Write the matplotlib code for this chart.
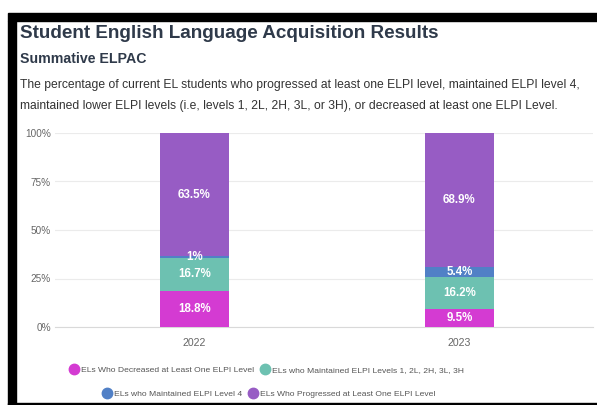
import numpy as np
import matplotlib.pyplot as plt
from matplotlib.lines import Line2D
from matplotlib.patches import Rectangle

years = ['2022', '2023']
decreased = [18.8, 9.5]
maintained_low = [16.7, 16.2]
maintained_4 = [1.0, 5.4]
progressed = [63.5, 68.9]

series = [decreased, maintained_low, maintained_4, progressed]
names = ['ELs Who Decreased at Least One ELPI Level',
         'ELs who Maintained ELPI Levels 1, 2L, 2H, 3L, 3H',
         'ELs who Maintained ELPI Level 4',
         'ELs Who Progressed at Least One ELPI Level']
colors = ['#D43BD2', '#6DC1B1', '#5180C6', '#975CC4']

plt.rcParams['font.family'] = ['Liberation Sans', 'DejaVu Sans']

W, H = 597, 405
fig = plt.figure(figsize=(W / 100, H / 100), dpi=100)

def fx(px):
    return px / W

def fy(py):
    return 1 - py / H

# black frame (screenshot border)
fig.patches.append(Rectangle((fx(8), fy(21)), fx(597 - 8), 8 / H, transform=fig.transFigure,
                             color='black', zorder=0))
fig.patches.append(Rectangle((fx(8), 0), 8 / W, fy(21), transform=fig.transFigure,
                             color='black', zorder=0))
fig.patches.append(Rectangle((fx(8), 0), fx(597 - 8), 2.5 / H, transform=fig.transFigure,
                             color='black', zorder=0))

fig.text(fx(20), fy(33), 'Student English Language Acquisition Results', fontsize=13.6,
         fontweight='bold', color='#2F3A4A', va='center')
fig.text(fx(20), fy(59), 'Summative ELPAC', fontsize=10.2, fontweight='bold',
         color='#2F3A4A', va='center')
fig.text(fx(20), fy(85), 'The percentage of current EL students who progressed at least one ELPI level, maintained ELPI level 4,',
         fontsize=8.75, color='#333333', va='center')
fig.text(fx(20), fy(106), 'maintained lower ELPI levels (i.e, levels 1, 2L, 2H, 3L, or 3H), or decreased at least one ELPI Level.',
         fontsize=8.75, color='#333333', va='center')

ax = fig.add_axes([fx(55), fy(327), fx(593 - 55), (327 - 133) / H])
x = np.arange(len(years))
bottom = np.zeros(len(years))
for vals, c in zip(series, colors):
    vals = np.array(vals)
    ax.bar(x, vals, 0.26, bottom=bottom, color=c, linewidth=0, zorder=3)
    for xi, b, v in zip(x, bottom, vals):
        ax.text(xi, b + v / 2, f'{v:g}%', ha='center', va='center', color='white',
                fontsize=8.3, fontweight='bold', zorder=4)
    bottom += vals

ax.set_xlim(-0.526, 1.504)
ax.set_ylim(0, 100)
ax.set_yticks([0, 25, 50, 75, 100])
ax.set_yticklabels(['0%', '25%', '50%', '75%', '100%'])
ax.set_xticks(x)
ax.set_xticklabels(years)
ax.grid(axis='y', color='#EBEBEB', linewidth=0.8, zorder=0)
for s in ['top', 'right', 'left']:
    ax.spines[s].set_visible(False)
ax.spines['bottom'].set_color('#D9D9D9')
ax.tick_params(axis='both', length=0, labelsize=7.2, labelcolor='#666666')
ax.tick_params(axis='y', pad=3)
ax.tick_params(axis='x', pad=8)
for lab in ax.get_xticklabels():
    lab.set_fontsize(7.6)

def handle(c):
    return Line2D([], [], marker='o', linestyle='', markersize=7.5, markerfacecolor=c,
                  markeredgecolor=c)

fig.legend([handle(colors[0]), handle(colors[1])], names[:2], ncol=2, loc='center',
           bbox_to_anchor=(fx(267), fy(370)), frameon=False, fontsize=6.1,
           labelcolor='#555555', handletextpad=0.35, columnspacing=0.8, handlelength=1)
fig.legend([handle(colors[2]), handle(colors[3])], names[2:], ncol=2, loc='center',
           bbox_to_anchor=(fx(269), fy(394)), frameon=False, fontsize=6.1,
           labelcolor='#555555', handletextpad=0.35, columnspacing=0.8, handlelength=1)

fig.savefig('out.png', dpi=100)
